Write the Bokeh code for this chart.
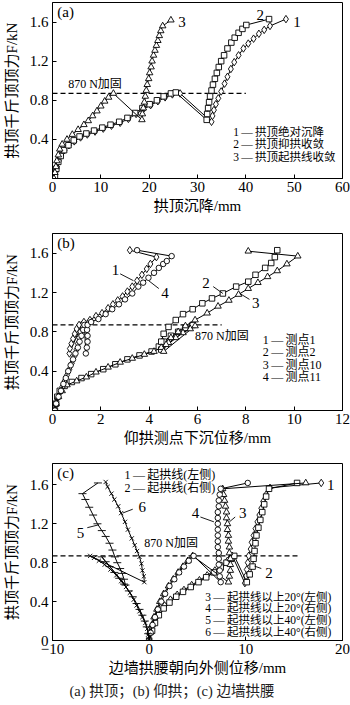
from bokeh.plotting import figure
from bokeh.models import Label, FixedTicker, Range1d, Title
from bokeh.layouts import column
from bokeh.embed import file_html
from bokeh.resources import INLINE

SERIF = "Liberation Serif, Noto Sans CJK SC"
D = "\u2009—\u2009"

# ---------------- data: panel (a) 拱顶 ----------------
a_xticks = [0, 10, 20, 30, 40, 50, 60]
a_yticks = [0.4, 0.8, 1.2, 1.6]
a1_x = [0.4, 0.6, 0.9, 1.3, 1.8, 2.5, 3.4, 4.5, 5.8, 7.2, 8.8, 10.5, 12.2, 14.0, 15.7, 17.3, 18.8, 20.3, 21.8, 23.3, 24.8, 26.4,
        32.9, 33.1, 33.4, 33.8, 34.3, 34.9, 35.6, 36.2, 36.9, 37.6, 38.5, 39.5, 40.5, 41.6, 42.7, 43.8, 45.0, 48.3]
a1_y = [0.00, 0.06, 0.12, 0.18, 0.24, 0.29, 0.34, 0.38, 0.42, 0.45, 0.48, 0.51, 0.54, 0.57, 0.61, 0.66, 0.71, 0.75, 0.79, 0.83, 0.86, 0.87,
        0.58, 0.64, 0.70, 0.76, 0.82, 0.89, 0.97, 1.04, 1.12, 1.19, 1.26, 1.33, 1.38, 1.43, 1.48, 1.52, 1.56, 1.63]
a2_x = [0.5, 0.8, 1.2, 1.7, 2.4, 3.3, 4.4, 5.6, 7.0, 8.6, 10.3, 12.0, 13.8, 15.5, 17.1, 18.6, 20.1, 21.6, 23.0, 24.5, 25.5,
        31.9, 32.0, 32.2, 32.4, 32.6, 32.9, 33.2, 33.6, 34.0, 34.4, 34.9, 35.5, 36.2, 37.0, 37.7, 38.5, 39.3, 40.1, 44.8]
a2_y = [0.02, 0.10, 0.17, 0.23, 0.29, 0.34, 0.39, 0.43, 0.46, 0.49, 0.52, 0.55, 0.58, 0.62, 0.67, 0.72, 0.76, 0.80, 0.84, 0.87, 0.88,
        0.60, 0.66, 0.72, 0.78, 0.84, 0.90, 0.96, 1.02, 1.08, 1.14, 1.20, 1.26, 1.33, 1.39, 1.44, 1.49, 1.53, 1.57, 1.63]
a3_x = [0.3, 0.5, 0.7, 0.9, 1.2, 1.5, 2.0, 3.0, 4.1, 5.3, 6.5, 7.4, 8.3, 9.2, 10.0, 10.8, 11.6, 12.6,
        18.5, 18.6, 18.8, 19.0, 19.2, 19.4, 19.6, 19.9, 20.1, 20.4, 20.6, 20.9, 21.2, 21.5, 21.8, 22.1, 22.4, 22.8, 24.5]
a3_y = [0.00, 0.06, 0.12, 0.18, 0.24, 0.30, 0.35, 0.40, 0.45, 0.50, 0.55, 0.59, 0.64, 0.69, 0.74, 0.79, 0.83, 0.87,
        0.60, 0.66, 0.72, 0.78, 0.84, 0.90, 0.96, 1.02, 1.08, 1.14, 1.20, 1.26, 1.31, 1.36, 1.41, 1.46, 1.51, 1.56, 1.62]
a_legend = ["1" + D + "拱顶绝对沉降", "2" + D + "拱顶抑拱收敛", "3" + D + "拱顶起拱线收敛"]

# ---------------- data: panel (b) 仰拱 ----------------
b_xticks = [0, 2, 4, 6, 8, 10, 12]
b_yticks = [0.4, 0.8, 1.2, 1.6]
b1_x = [0.10, 0.15, 0.20, 0.30, 0.40, 0.50, 0.60, 0.70, 0.80, 0.90, 1.00, 1.05, 1.10, 1.15, 1.20,
        0.70, 0.72, 0.78, 0.85, 0.92, 1.00, 1.10, 1.30, 1.55, 1.80, 2.05, 2.30, 2.50, 2.70, 2.90, 3.10, 3.30, 3.50, 3.70, 3.90, 4.05, 4.30, 3.20]
b1_y = [0.00, 0.06, 0.12, 0.18, 0.24, 0.30, 0.36, 0.42, 0.48, 0.55, 0.62, 0.68, 0.74, 0.80, 0.87,
        0.58, 0.63, 0.68, 0.73, 0.78, 0.83, 0.87, 0.90, 0.92, 0.96, 0.99, 1.04, 1.08, 1.12, 1.16, 1.21, 1.26, 1.32, 1.38, 1.44, 1.49, 1.56, 1.63]
b2_x = [0.10, 0.15, 0.20, 0.30, 0.50, 0.80, 1.20, 1.60, 2.10, 2.60, 3.10, 3.60, 4.10, 4.40, 4.60, 4.90, 5.20, 5.50, 5.80,
        4.50, 4.50, 4.60, 4.80, 5.10, 5.40, 5.80, 6.20, 6.60, 7.05, 7.60, 8.10, 8.40, 8.80, 9.05, 9.20, 9.30]
b2_y = [0.00, 0.07, 0.14, 0.20, 0.25, 0.29, 0.33, 0.37, 0.42, 0.47, 0.52, 0.56, 0.60, 0.65, 0.70, 0.76, 0.80, 0.84, 0.87,
        0.62, 0.70, 0.78, 0.85, 0.92, 0.98, 1.03, 1.09, 1.14, 1.19, 1.26, 1.31, 1.38, 1.45, 1.50, 1.56, 1.63]
b3_x = [0.10, 0.15, 0.25, 0.40, 0.60, 1.00, 1.40, 1.80, 2.30, 2.80, 3.30, 3.80, 4.20, 4.50, 4.80, 5.10, 5.40, 5.70, 5.90,
        4.60, 4.70, 4.90, 5.20, 5.50, 5.90, 6.40, 6.85, 7.30, 7.70, 8.10, 8.50, 8.90, 9.30, 9.70, 10.15, 8.10]
b3_y = [0.00, 0.07, 0.14, 0.20, 0.26, 0.30, 0.34, 0.39, 0.44, 0.49, 0.53, 0.57, 0.60, 0.64, 0.69, 0.74, 0.79, 0.83, 0.86,
        0.60, 0.67, 0.74, 0.80, 0.86, 0.92, 0.99, 1.06, 1.12, 1.18, 1.24, 1.30, 1.36, 1.42, 1.49, 1.57, 1.62]
b4_x = [0.10, 0.15, 0.25, 0.35, 0.45, 0.55, 0.65, 0.75, 0.85, 0.95, 1.05, 1.12, 1.20, 1.27, 1.32,
        1.38, 1.42, 1.45, 1.45, 1.43, 1.45, 1.60, 1.90, 2.20, 2.47, 2.75, 3.00, 3.30, 3.55, 3.75, 3.97, 4.20, 4.40, 4.58, 4.73, 4.93, 3.50]
b4_y = [0.00, 0.07, 0.14, 0.20, 0.27, 0.33, 0.40, 0.46, 0.52, 0.58, 0.64, 0.70, 0.76, 0.82, 0.87,
        0.58, 0.64, 0.70, 0.76, 0.82, 0.87, 0.90, 0.93, 0.98, 1.03, 1.08, 1.13, 1.19, 1.26, 1.30, 1.35, 1.40, 1.45, 1.49, 1.52, 1.57, 1.63]
b_legend = ["1" + D + "测点1", "2" + D + "测点2", "3" + D + "测点10", "4" + D + "测点11"]

# ---------------- data: panel (c) 边墙拱腰 ----------------
c_xticks = [-10, 0, 10, 20]
c_yticks = [0, 0.4, 0.8, 1.2, 1.6]
c1_x = [0.0, 0.2, 0.4, 0.7, 1.1, 1.6, 2.2, 2.9, 3.6, 4.4, 5.2, 6.0, 6.8, 7.5, 8.1, 8.6,
        9.9, 10.0, 10.1, 10.2, 10.3, 10.5, 10.6, 10.8, 11.0, 11.2, 11.4, 11.6, 11.8, 12.1, 12.5, 17.8]
c1_y = [0.00, 0.08, 0.16, 0.23, 0.30, 0.36, 0.42, 0.47, 0.52, 0.57, 0.62, 0.67, 0.72, 0.77, 0.82, 0.87,
        0.59, 0.66, 0.73, 0.80, 0.87, 0.94, 1.01, 1.08, 1.15, 1.22, 1.29, 1.36, 1.43, 1.50, 1.57, 1.62]
c2_x = [0.0, 0.3, 0.6, 1.0, 1.5, 2.1, 2.8, 3.5, 4.3, 5.1, 5.9, 6.7, 7.4, 8.0, 8.5, 8.8,
        10.1, 10.4, 10.7, 10.8, 10.9, 11.0, 11.1, 11.3, 11.5, 11.7, 11.9, 12.1, 12.4, 15.3]
c2_y = [0.00, 0.10, 0.18, 0.26, 0.33, 0.39, 0.45, 0.50, 0.55, 0.60, 0.65, 0.70, 0.75, 0.80, 0.84, 0.87,
        0.60, 0.68, 0.76, 0.84, 0.92, 1.00, 1.08, 1.16, 1.24, 1.32, 1.40, 1.48, 1.56, 1.62]
c3_x = [0.0, 0.1, 0.3, 0.5, 0.8, 1.1, 1.5, 2.0, 2.5, 3.0, 3.5, 4.0, 4.5,
        8.2, 8.3, 8.4, 8.4, 8.4, 8.3, 8.3, 8.2, 8.2, 8.1, 8.1, 8.0, 8.0, 7.9, 7.8, 7.7, 7.6, 16.2]
c3_y = [0.00, 0.08, 0.16, 0.24, 0.32, 0.40, 0.48, 0.56, 0.63, 0.70, 0.76, 0.82, 0.87,
        0.60, 0.66, 0.72, 0.78, 0.84, 0.90, 0.96, 1.02, 1.08, 1.14, 1.20, 1.26, 1.32, 1.38, 1.44, 1.50, 1.56, 1.62]
c4_x = [0.0, 0.15, 0.35, 0.6, 0.9, 1.25, 1.65, 2.1, 2.6, 3.1, 3.6, 4.1, 4.6,
        7.4, 7.3, 7.3, 7.2, 7.2, 7.2, 7.1, 7.1, 7.1, 7.1, 7.1, 7.1, 7.1, 7.2, 7.2, 7.3, 7.4, 10.2]
c4_y = [0.00, 0.08, 0.16, 0.24, 0.32, 0.40, 0.48, 0.56, 0.63, 0.70, 0.76, 0.82, 0.87,
        0.60, 0.66, 0.72, 0.78, 0.84, 0.90, 0.96, 1.02, 1.08, 1.14, 1.20, 1.26, 1.32, 1.38, 1.44, 1.50, 1.56, 1.62]
c5_x = [0.0, -0.1, -0.25, -0.45, -0.7, -1.0, -1.3, -1.7, -2.1, -2.6, -3.1, -3.6, -4.1, -4.5, -4.9,
        -2.45, -2.6, -2.8, -3.0, -3.3, -3.55, -3.8, -4.1, -4.5, -4.9, -5.35, -5.8, -6.2, -6.6, -6.9, -5.3]
c5_y = [0.00, 0.07, 0.14, 0.20, 0.26, 0.32, 0.38, 0.45, 0.51, 0.58, 0.64, 0.70, 0.76, 0.81, 0.86,
        0.57, 0.63, 0.69, 0.74, 0.80, 0.86, 0.93, 1.00, 1.07, 1.13, 1.20, 1.29, 1.37, 1.45, 1.51, 1.62]
c6_x = [0.0, -0.1, -0.2, -0.4, -0.7, -1.0, -1.3, -1.6, -2.0, -2.4, -2.9, -3.4, -4.0, -4.6, -5.2, -5.7, -6.1,
        -0.5, -0.55, -0.7, -0.8, -1.0, -1.25, -1.5, -1.8, -2.2, -2.5, -2.9, -3.2, -3.6, -3.9, -4.3, -4.5]
c6_y = [0.00, 0.06, 0.12, 0.18, 0.24, 0.30, 0.36, 0.42, 0.49, 0.55, 0.61, 0.67, 0.73, 0.78, 0.82, 0.85, 0.87,
        0.60, 0.66, 0.72, 0.79, 0.86, 0.92, 0.98, 1.05, 1.14, 1.22, 1.31, 1.38, 1.45, 1.51, 1.58, 1.63]
c_legend_top = ["1" + D + "起拱线(左侧)", "2" + D + "起拱线(右侧)"]
c_legend_bottom = ["3" + D + "起拱线以上20°(左侧)", "4" + D + "起拱线以上20°(右侧)",
                   "5" + D + "起拱线以上40°(左侧)", "6" + D + "起拱线以上40°(右侧)"]

reinforce_load = 0.87
reinforce_text = "870 N加固"
y_title = "拱顶千斤顶顶力F/kN"
caption = "(a) 拱顶；(b) 仰拱；(c) 边墙拱腰"


def make_fig(xr, yr, xticks, yticks, xlabel, top, fh, bottom):
    p = figure(frame_width=290, frame_height=fh, x_range=Range1d(*xr), y_range=Range1d(*yr),
               min_border_left=50, min_border_right=10, min_border_top=top, min_border_bottom=bottom,
               output_backend="svg", toolbar_location=None)
    p.xgrid.visible = False
    p.ygrid.visible = False
    p.outline_line_color = "black"
    p.outline_line_alpha = 1
    p.outline_line_width = 1
    p.background_fill_color = "white"
    p.border_fill_color = "white"
    p.xaxis.ticker = FixedTicker(ticks=xticks)
    p.yaxis.ticker = FixedTicker(ticks=yticks)
    p.xaxis.axis_label = xlabel
    p.yaxis.axis_label = y_title
    for ax in (p.xaxis[0], p.yaxis[0]):
        ax.major_tick_in = 4
        ax.major_tick_out = 0
        ax.minor_tick_line_color = None
        ax.axis_line_color = "black"
        ax.major_tick_line_color = "black"
        ax.major_label_text_font = SERIF
        ax.major_label_text_font_size = "15px"
        ax.major_label_text_color = "black"
        ax.axis_label_text_font = SERIF
        ax.axis_label_text_font_size = "15px"
        ax.axis_label_text_font_style = "normal"
        ax.axis_label_text_color = "black"
    p.xaxis.major_label_standoff = 3
    p.yaxis.major_label_standoff = 4
    p.xaxis.axis_label_standoff = 3
    p.yaxis.axis_label_standoff = 7
    return p


def series(p, x, y, marker, size):
    p.line(x, y, line_color="black", line_width=1)
    p.scatter(x, y, marker=marker, size=size, fill_color="white", line_color="black", line_width=0.9)


def txt(p, x, y, s, size="12px", align="left"):
    p.add_layout(Label(x=x, y=y, text=s, text_font=SERIF, text_font_size=size,
                       text_baseline="middle", text_align=align, text_color="black"))


def leader(p, x0, y0, x1, y1):
    p.segment([x0], [y0], [x1], [y1], line_color="black", line_width=0.9)


# ---------- panel (a) ----------
p1 = make_fig((0, 60), (0, 1.8), a_xticks, a_yticks, "拱顶沉降/mm", 2, 176, 52)
p1.line([0, 40], [reinforce_load, reinforce_load], line_color="black", line_width=1.2, line_dash="5 3")
series(p1, a1_x, a1_y, "diamond", 7.5)
series(p1, a2_x, a2_y, "square", 5.5)
series(p1, a3_x, a3_y, "triangle", 6.5)
txt(p1, 1.0, 1.7, "(a)", "15px")
txt(p1, 8.8, 0.97, reinforce_text, "12px", "center")
txt(p1, 26.0, 1.6, "3", "15px")
txt(p1, 42.2, 1.67, "2", "15px")
txt(p1, 49.8, 1.6, "1", "15px")
for i, s in enumerate(a_legend):
    txt(p1, 37.4, 0.475 - i * 0.127, s, "11.5px")

# ---------- panel (b) ----------
p2 = make_fig((0, 12), (0, 1.8), b_xticks, b_yticks, "仰拱测点下沉位移/mm", 3, 177, 50)
p2.line([0, 7], [reinforce_load, reinforce_load], line_color="black", line_width=1.2, line_dash="5 3")
series(p2, b1_x, b1_y, "diamond", 7.5)
series(p2, b2_x, b2_y, "square", 5.5)
series(p2, b3_x, b3_y, "triangle", 6.5)
series(p2, b4_x, b4_y, "circle", 5.5)
txt(p2, 0.2, 1.7, "(b)", "15px")
txt(p2, 5.9, 0.755, reinforce_text, "12px")
txt(p2, 2.45, 1.43, "1", "15px")
leader(p2, 2.8, 1.39, 3.35, 1.32)
txt(p2, 4.5, 1.19, "4", "15px")
leader(p2, 4.4, 1.24, 3.98, 1.32)
txt(p2, 6.2, 1.3, "2", "15px")
leader(p2, 6.65, 1.26, 7.05, 1.19)
txt(p2, 8.25, 1.09, "3", "15px")
leader(p2, 8.15, 1.13, 7.75, 1.19)
for i, s in enumerate(b_legend):
    txt(p2, 8.7, 0.72 - i * 0.128, s, "12px")

# ---------- panel (c) ----------
p3 = make_fig((-10, 20), (0, 1.82), c_xticks, c_yticks, "边墙拱腰朝向外侧位移/mm", 3, 177, 65)
p3.yaxis.major_label_overrides = {0: "0"}
p3.line([-10, 15.5], [reinforce_load, reinforce_load], line_color="black", line_width=1.2, line_dash="5 3")
series(p3, c1_x, c1_y, "diamond", 7.5)
series(p3, c2_x, c2_y, "square", 5.5)
series(p3, c3_x, c3_y, "triangle", 6.5)
series(p3, c4_x, c4_y, "circle", 5.5)
series(p3, c5_x, c5_y, "dash", 8)
series(p3, c6_x, c6_y, "x", 6)
txt(p3, -9.5, 1.72, "(c)", "15px")
txt(p3, -0.5, 1.0, reinforce_text, "12px")
for i, s in enumerate(c_legend_top):
    txt(p3, -2.55, 1.70 - i * 0.13, s, "12px")
for i, s in enumerate(c_legend_bottom):
    txt(p3, 5.8, 0.45 - i * 0.12, s, "11.5px")
txt(p3, 18.4, 1.6, "1", "15px")
txt(p3, 12.0, 0.69, "2", "15px")
leader(p3, 11.6, 0.74, 10.9, 0.765)
txt(p3, 9.3, 1.31, "3", "15px")
leader(p3, 8.9, 1.27, 8.3, 1.22)
txt(p3, 4.4, 1.31, "4", "15px")
leader(p3, 5.3, 1.27, 6.7, 1.22)
txt(p3, -7.5, 1.11, "5", "15px")
leader(p3, -6.4, 1.16, -5.2, 1.19)
txt(p3, -1.1, 1.37, "6", "15px")
leader(p3, -1.7, 1.35, -2.75, 1.31)
p3.add_layout(Title(text=caption, align="left", offset=17, text_font=SERIF, text_font_size="14.5px",
                    text_font_style="normal", text_color="#222222", standoff=4), "below")

layout = column(p1, p2, p3, spacing=0)
open("out.html", "w").write(file_html(layout, INLINE))
